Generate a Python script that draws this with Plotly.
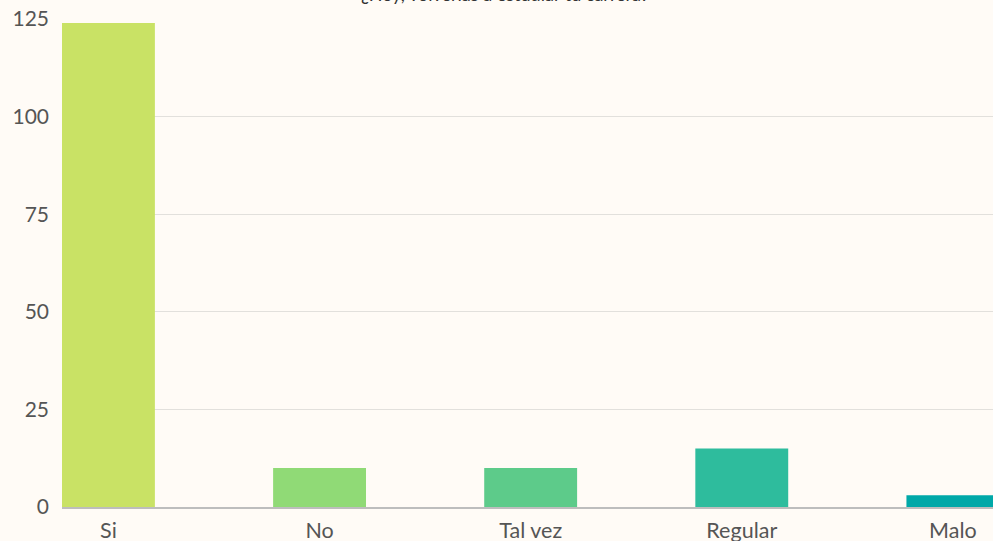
import plotly.graph_objects as go

categories = ["Si", "No", "Tal vez", "Regular", "Malo"]
values = [124, 10, 10, 15, 3]
colors = ["#C9E265", "#90DA76", "#5DCB8A", "#2EBC9D", "#00A8A8"]
title_text = "¿Hoy, volverías a estudiar tu carrera?"
y_ticks = [0, 25, 50, 75, 100, 125]

fig = go.Figure(go.Bar(
    x=categories, y=values, marker=dict(color=colors, line=dict(width=0)),
    width=0.44, hoverinfo="x+y",
))

bg = "#FFFBF6"
fig.update_layout(
    width=993, height=541,
    margin=dict(l=62, r=0, t=19, b=34),
    paper_bgcolor=bg, plot_bgcolor=bg,
    font=dict(family="Lato, sans-serif", size=21, color="#555555"),
    showlegend=False,
    annotations=[dict(
        text=title_text, xref="paper", yref="paper", x=0.476, y=1,
        xanchor="center", yanchor="bottom", yshift=12, showarrow=False,
        font=dict(size=18, color="#333333"),
    )],
)
fig.update_xaxes(
    range=[-0.22, 4.19], showgrid=False, showline=True, linecolor="#BDBDBD",
    linewidth=1.5, ticks="", automargin=False, ticklabelstandoff=3,
    tickfont=dict(size=21.5, color="#555555"),
)
fig.update_yaxes(
    range=[0, 125], tickvals=y_ticks, showgrid=True, gridcolor="#E2E0DC",
    gridwidth=1, zeroline=False, showline=False, ticks="", automargin=False,
    ticklabelstandoff=12, tickfont=dict(size=21, color="#555555"),
)

fig.write_html(
    "out.html",
    config={"displayModeBar": False},
    post_script="document.body.style.margin='0';document.body.style.overflow='hidden';",
)
